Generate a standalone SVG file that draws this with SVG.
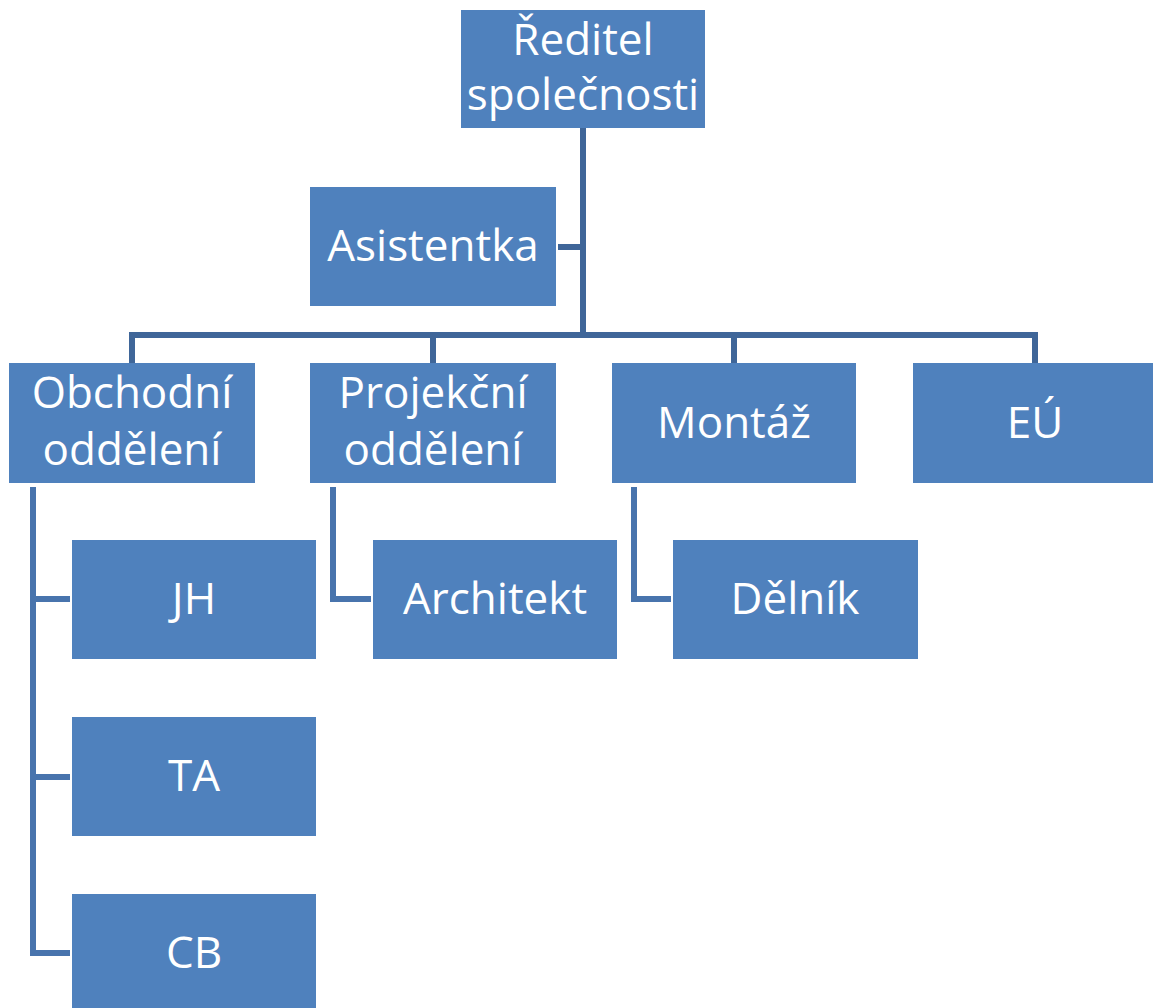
<svg xmlns="http://www.w3.org/2000/svg" width="1153" height="1008" viewBox="0 0 1153 1008">
  <style>
    .box { fill: #4F81BD; }
    .lbl { fill: #FFFFFF; font-family: "Open Sans", "Liberation Sans", sans-serif; font-size: 44px; text-anchor: middle; }
    .c1 { stroke: #3F6699; stroke-width: 6; fill: none; }
    .c2 { stroke: #4874AD; stroke-width: 6; fill: none; }
  </style>
  <rect width="1153" height="1008" fill="#FFFFFF"/>
  <g id="connectors">
    <path class="c1" d="M583 128 V335"/>
    <path class="c1" d="M583 247 H558"/>
    <path class="c1" d="M132 363 V335 H1035 V363"/>
    <path class="c1" d="M433 335 V363"/>
    <path class="c1" d="M734 335 V363"/>
    <path class="c2" d="M33 487 V953 H70"/>
    <path class="c2" d="M33 599 H70"/>
    <path class="c2" d="M33 777 H70"/>
    <path class="c2" d="M333 487 V599 H371"/>
    <path class="c2" d="M634 487 V599 H671"/>
  </g>
  <g id="reditel">
    <rect class="box" x="461" y="10" width="244" height="118"/>
    <text class="lbl" x="583" y="55">Ředitel</text>
    <text class="lbl" x="583" y="110">společnosti</text>
  </g>
  <g id="asistentka">
    <rect class="box" x="310" y="187" width="246" height="119"/>
    <text class="lbl" x="433" y="261">Asistentka</text>
  </g>
  <g id="obchodni">
    <rect class="box" x="9" y="363" width="246" height="120"/>
    <text class="lbl" x="132" y="408">Obchodní</text>
    <text class="lbl" x="132" y="465">oddělení</text>
  </g>
  <g id="projekcni">
    <rect class="box" x="310" y="363" width="246" height="120"/>
    <text class="lbl" x="433" y="408">Projekční</text>
    <text class="lbl" x="433" y="465">oddělení</text>
  </g>
  <g id="montaz">
    <rect class="box" x="612" y="363" width="244" height="120"/>
    <text class="lbl" x="734" y="438">Montáž</text>
  </g>
  <g id="eu">
    <rect class="box" x="913" y="363" width="246" height="120"/>
    <text class="lbl" x="1035" y="438">EÚ</text>
  </g>
  <g id="jh">
    <rect class="box" x="72" y="540" width="244" height="119"/>
    <text class="lbl" x="194" y="614">JH</text>
  </g>
  <g id="ta">
    <rect class="box" x="72" y="717" width="244" height="119"/>
    <text class="lbl" x="194" y="791">TA</text>
  </g>
  <g id="cb">
    <rect class="box" x="72" y="894" width="244" height="119"/>
    <text class="lbl" x="194" y="968">CB</text>
  </g>
  <g id="architekt">
    <rect class="box" x="373" y="540" width="244" height="119"/>
    <text class="lbl" x="495" y="614">Architekt</text>
  </g>
  <g id="delnik">
    <rect class="box" x="673" y="540" width="245" height="119"/>
    <text class="lbl" x="795" y="614">Dělník</text>
  </g>
</svg>
